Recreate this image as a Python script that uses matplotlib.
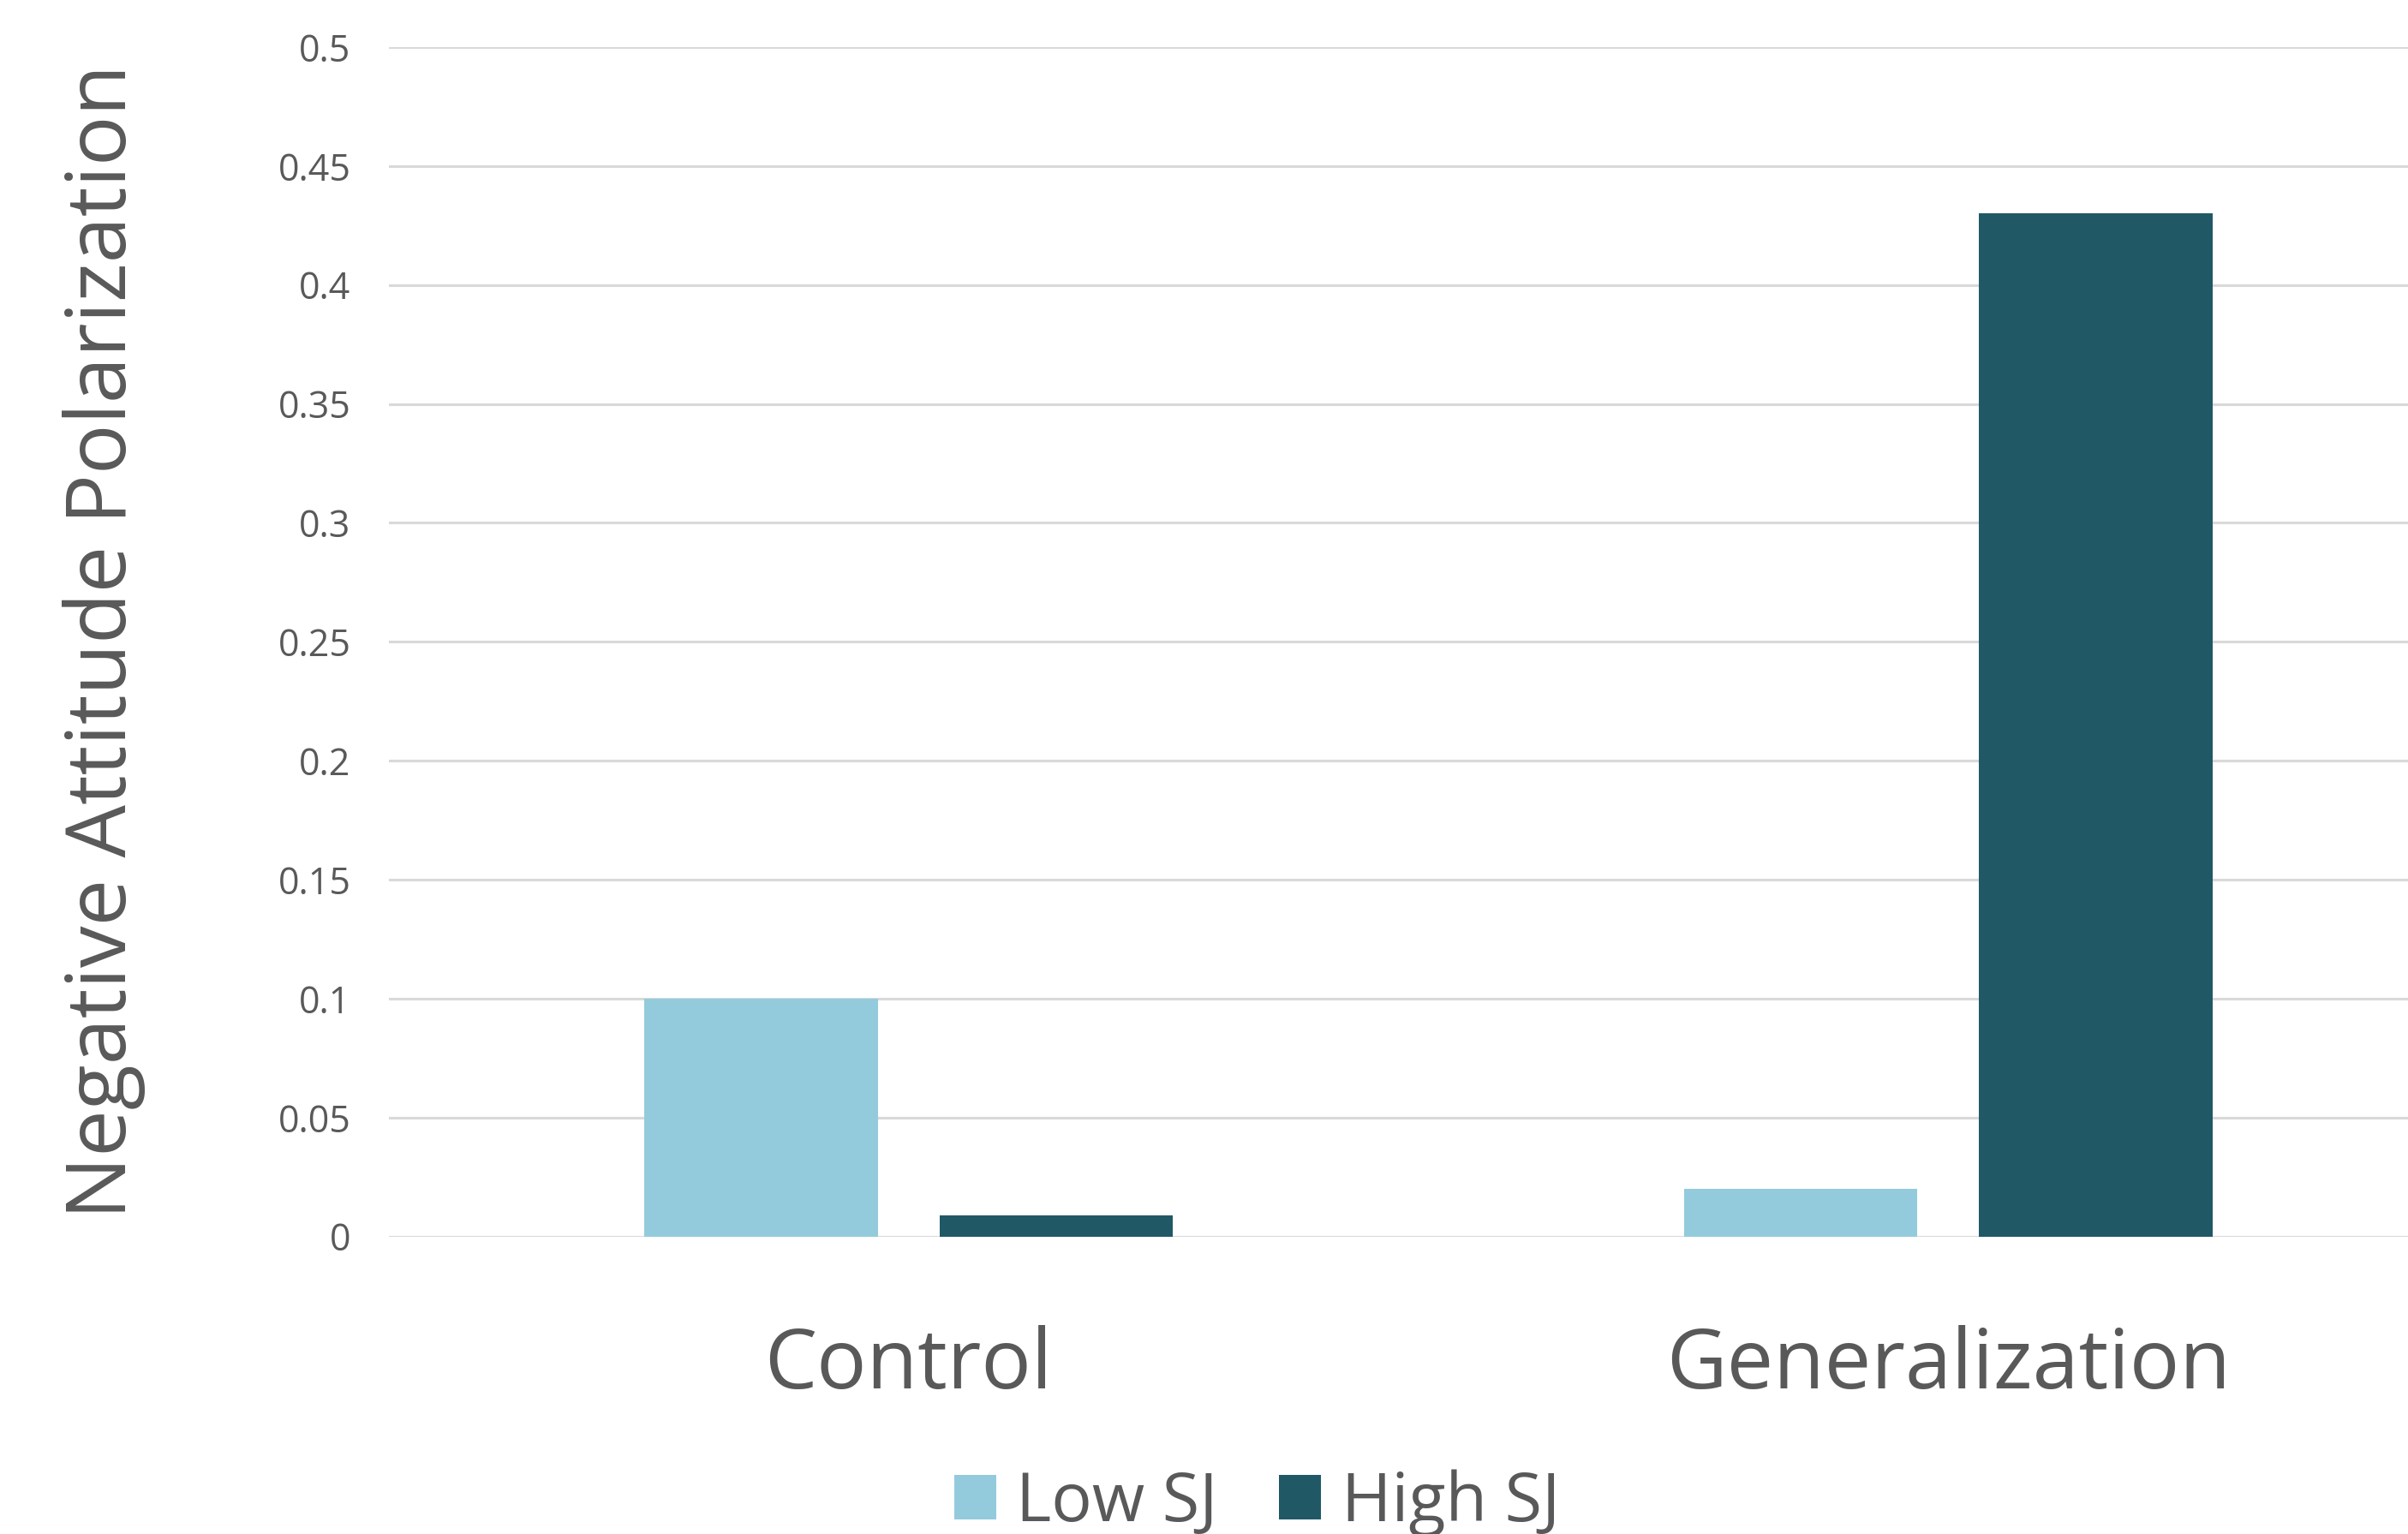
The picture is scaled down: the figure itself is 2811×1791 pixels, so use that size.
import matplotlib
matplotlib.use('Agg')
import matplotlib.pyplot as plt
import numpy as np

# Group means per condition
conditions = ['Control', 'Generalization']
low_sj = [0.10, 0.02]
high_sj = [0.009, 0.43]
series_names = ['Low SJ', 'High SJ']

y_ticks = [0, 0.05, 0.1, 0.15, 0.2, 0.25, 0.3, 0.35, 0.4, 0.45, 0.5]
y_tick_labels = ['0', '0.05', '0.1', '0.15', '0.2', '0.25', '0.3', '0.35', '0.4', '0.45', '0.5']

COLOR_LOW = '#94CBDC'
COLOR_HIGH = '#215866'
TEXT_COLOR = '#595959'
GRID_COLOR = '#d9d9d9'

plt.rcParams['font.family'] = ['Open Sans', 'DejaVu Sans']

fig = plt.figure(figsize=(28.11, 17.91), dpi=100)
# plot area runs past the right edge of the figure
ax = fig.add_axes([0.1615, 0.1939, 0.8634, 0.7754])

x = np.arange(len(conditions))
bar_w = 0.2245
offset = 0.142

ax.bar(x - offset, low_sj, width=bar_w, color=COLOR_LOW, label=series_names[0], zorder=3)
ax.bar(x + offset, high_sj, width=bar_w, color=COLOR_HIGH, label=series_names[1], zorder=3)

ax.set_xlim(-0.5, 1.5)
ax.set_ylim(0, 0.5)

ax.set_yticks(y_ticks)
ax.set_yticklabels(y_tick_labels)
ax.yaxis.grid(True, color=GRID_COLOR, linewidth=2.2, zorder=0)
ax.set_axisbelow(True)

ax.set_xticks(x)
ax.set_xticklabels(conditions)

for side in ['top', 'right', 'left', 'bottom']:
    ax.spines[side].set_visible(False)

ax.tick_params(axis='y', length=0, pad=32, labelsize=31, labelcolor=TEXT_COLOR)
ax.tick_params(axis='x', length=0, pad=74, labelsize=70, labelcolor=TEXT_COLOR)

ax.set_ylabel('Negative Attitude Polarization', fontsize=70, color=TEXT_COLOR)
ax.yaxis.set_label_coords(-0.117, 0.5)

fig.legend(loc='center', bbox_to_anchor=(0.522, 0.02), ncol=2, frameon=False,
           fontsize=57, labelcolor=TEXT_COLOR, handlelength=0.62, handleheight=0.62,
           handletextpad=0.3, columnspacing=0.9)

fig.savefig('out.png', dpi=100)
